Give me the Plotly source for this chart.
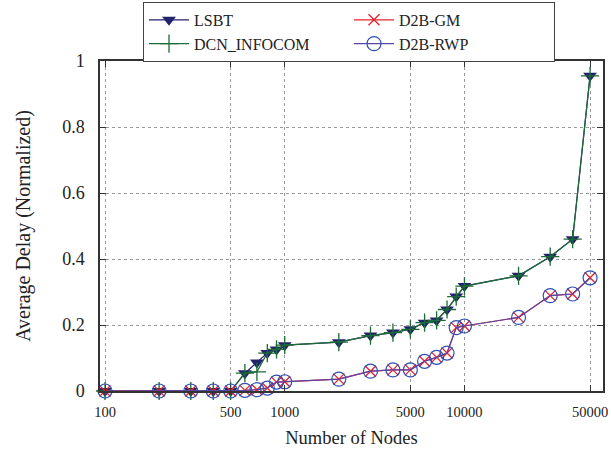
import plotly.graph_objects as go

nodes = [100, 200, 300, 400, 500, 600, 700, 800, 900, 1000, 2000, 3000, 4000,
         5000, 6000, 7000, 8000, 9000, 10000, 20000, 30000, 40000, 50000]
lsbt = [0, 0, 0, 0, 0, 0.054, 0.086, 0.115, 0.126, 0.139, 0.148, 0.168, 0.177,
        0.187, 0.207, 0.214, 0.247, 0.286, 0.318, 0.349, 0.407, 0.46, 0.955]
dcn = [0, 0, 0, 0, 0, 0.054, 0.058, 0.115, 0.126, 0.139, 0.148, 0.168, 0.177,
       0.187, 0.207, 0.214, 0.247, 0.286, 0.318, 0.349, 0.407, 0.46, 0.955]
d2b_gm = [0, 0, 0, 0, 0, 0.002, 0.004, 0.009, 0.027, 0.028, 0.036, 0.06, 0.064,
          0.064, 0.09, 0.102, 0.115, 0.192, 0.197, 0.223, 0.289, 0.294, 0.343]
d2b_rwp = [0, 0, 0, 0, 0, 0.002, 0.004, 0.009, 0.027, 0.028, 0.036, 0.06, 0.064,
           0.064, 0.09, 0.102, 0.115, 0.192, 0.197, 0.223, 0.289, 0.294, 0.343]

x_ticks = [100, 500, 1000, 5000, 10000, 50000]
x_tick_text = ["100", "500", "1000", "5000", "10000", "50000"]
y_ticks = [0, 0.2, 0.4, 0.6, 0.8, 1]
y_tick_text = ["0", "0.2", "0.4", "0.6", "0.8", "1"]

FONT = "Liberation Serif, Tinos, Times New Roman, serif"

fig = go.Figure()
fig.add_trace(go.Scatter(
    x=nodes, y=lsbt, name="LSBT", mode="lines+markers", cliponaxis=False,
    line=dict(color="#22226e", width=1.2),
    marker=dict(symbol="triangle-down", size=12, color="#22226e",
                line=dict(width=0))))
fig.add_trace(go.Scatter(
    x=nodes, y=dcn, name="DCN_INFOCOM", mode="lines+markers", cliponaxis=False,
    line=dict(color="#1d6b35", width=1.2),
    marker=dict(symbol="cross-thin", size=13, color="#1d6b35",
                line=dict(width=1.3, color="#1d6b35"))))
fig.add_trace(go.Scatter(
    x=nodes, y=d2b_gm, name="D2B-GM", mode="lines+markers", cliponaxis=False,
    line=dict(color="#e8212a", width=1.2),
    marker=dict(symbol="x-thin", size=11, color="#e8212a",
                line=dict(width=1.3, color="#e8212a"))))
fig.add_trace(go.Scatter(
    x=nodes, y=d2b_rwp, name="D2B-RWP", mode="lines+markers", cliponaxis=False,
    line=dict(color="#5a45a8", width=1.2),
    marker=dict(symbol="circle-open", size=14, color="#2f4fb5",
                line=dict(width=1.2, color="#2f4fb5"))))

fig.update_layout(
    width=611, height=451,
    margin=dict(l=100, r=8, t=61, b=60, autoexpand=False),
    paper_bgcolor="white", plot_bgcolor="white",
    font=dict(family=FONT, size=15, color="#222222"),
    showlegend=True,
    legend=dict(
        orientation="h", x=0.0855, y=1.179, xanchor="left", yanchor="top",
        bgcolor="white", bordercolor="#444444", borderwidth=1,
        font=dict(family=FONT, size=16, color="#222222"),
        entrywidth=150, entrywidthmode="pixels",
        tracegroupgap=0, itemwidth=40,
        traceorder="normal",
    ),
    xaxis=dict(
        type="log", range=[1.972, 4.771],
        tickvals=x_ticks, ticktext=x_tick_text,
        showgrid=True, gridcolor="#9a9a9a", griddash="dot", gridwidth=1,
        showline=True, linecolor="#333333", linewidth=1.5, mirror="allticks",
        ticks="inside", ticklen=6, tickcolor="#333333",
        zeroline=False, automargin=False, ticklabelstandoff=7,
        title=dict(text="Number of Nodes", font=dict(family=FONT, size=18.5),
                   standoff=12),
        tickfont=dict(family=FONT, size=14.5),
    ),
    yaxis=dict(
        range=[0, 1],
        tickvals=y_ticks, ticktext=y_tick_text,
        showgrid=True, gridcolor="#9a9a9a", griddash="dot", gridwidth=1,
        showline=True, linecolor="#333333", linewidth=1.5, mirror="allticks",
        ticks="inside", ticklen=6, tickcolor="#333333",
        zeroline=False, automargin=False, ticklabelstandoff=10,
        title=dict(text="Average Delay (Normalized)",
                   font=dict(family=FONT, size=20), standoff=26),
        tickfont=dict(family=FONT, size=18),
    ),
)

# legend order: row-wise LSBT, D2B-GM / DCN_INFOCOM, D2B-RWP
fig.data[0].legendrank = 1
fig.data[2].legendrank = 2
fig.data[1].legendrank = 3
fig.data[3].legendrank = 4

fig.write_html("out.html", config={"displayModeBar": False},
               post_script="document.body.style.margin='0px';")
